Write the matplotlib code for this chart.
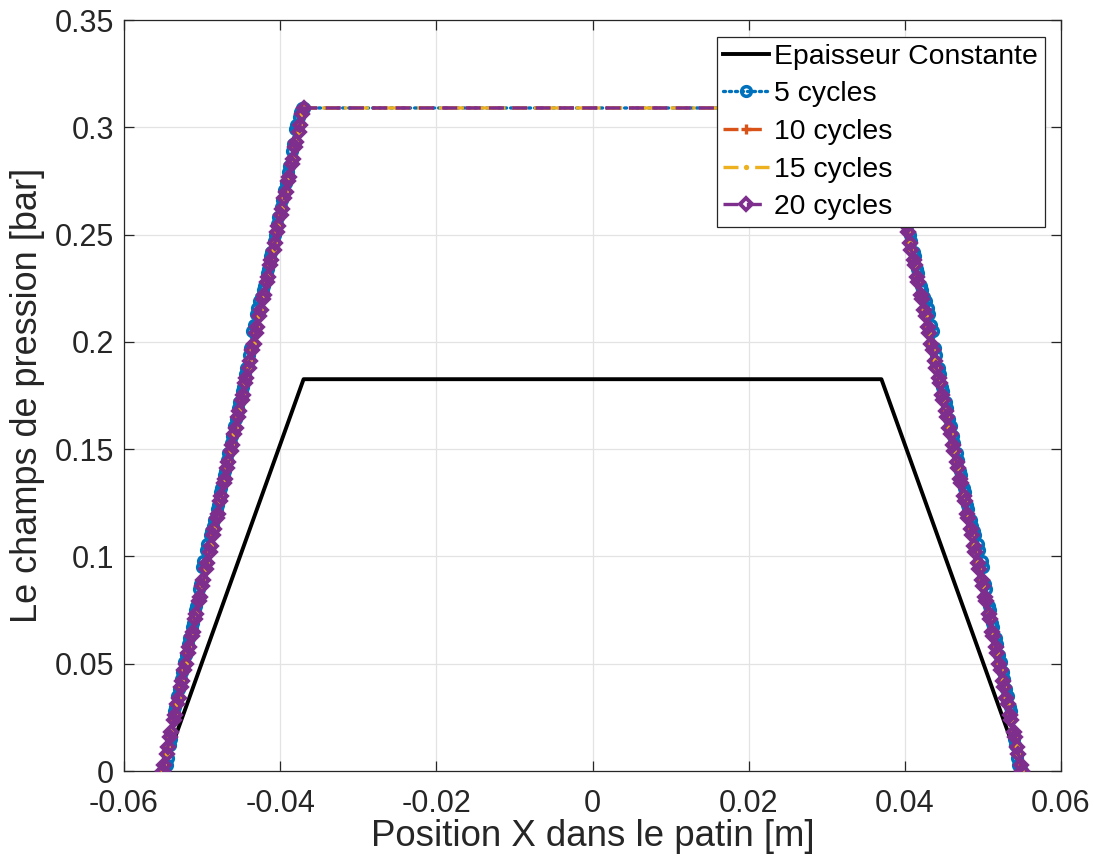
import matplotlib
matplotlib.use("Agg")
import matplotlib.pyplot as plt
from matplotlib.ticker import FixedLocator, FuncFormatter

plt.rcParams['font.family'] = ['Liberation Sans', 'DejaVu Sans']
plt.rcParams['axes.unicode_minus'] = False

# Constant-thickness pad pressure profile
x_const = [-0.055, -0.037, 0.037, 0.055]
p_const = [0.0, 0.1826, 0.1826, 0.0]

# Mesh nodes on the converging (left) and diverging (right) ramps of the textured pads
x_left = [-0.05500, -0.05485, -0.05454, -0.05439, -0.05409, -0.05393, -0.05363, -0.05347,
          -0.05317, -0.05302, -0.05271, -0.05256, -0.05226, -0.05210, -0.05180, -0.05164,
          -0.05134, -0.05119, -0.05088, -0.05073, -0.05043, -0.05028, -0.04997, -0.04982,
          -0.04951, -0.04936, -0.04905, -0.04890, -0.04860, -0.04845, -0.04814, -0.04799,
          -0.04768, -0.04753, -0.04722, -0.04707, -0.04677, -0.04662, -0.04631, -0.04616,
          -0.04585, -0.04570, -0.04539, -0.04524, -0.04494, -0.04479, -0.04448, -0.04433,
          -0.04403, -0.04387, -0.04357, -0.04341, -0.04311, -0.04296, -0.04265, -0.04250,
          -0.04220, -0.04205, -0.04174, -0.04159, -0.04128, -0.04113, -0.04082, -0.04067,
          -0.04037, -0.04022, -0.03991, -0.03976, -0.03945, -0.03930, -0.03899, -0.03884,
          -0.03854, -0.03839, -0.03808, -0.03793, -0.03762, -0.03747, -0.03716, -0.03700]
x_right = [0.03700, 0.03716, 0.03747, 0.03762, 0.03793, 0.03808, 0.03839, 0.03854,
           0.03884, 0.03899, 0.03930, 0.03945, 0.03976, 0.03991, 0.04022, 0.04037,
           0.04067, 0.04082, 0.04113, 0.04128, 0.04159, 0.04174, 0.04205, 0.04220,
           0.04250, 0.04265, 0.04296, 0.04311, 0.04341, 0.04357, 0.04387, 0.04403,
           0.04433, 0.04448, 0.04479, 0.04494, 0.04524, 0.04539, 0.04570, 0.04585,
           0.04616, 0.04631, 0.04662, 0.04677, 0.04707, 0.04722, 0.04753, 0.04768,
           0.04799, 0.04814, 0.04845, 0.04860, 0.04890, 0.04905, 0.04936, 0.04951,
           0.04982, 0.04997, 0.05028, 0.05043, 0.05073, 0.05088, 0.05119, 0.05134,
           0.05164, 0.05180, 0.05210, 0.05226, 0.05256, 0.05271, 0.05302, 0.05317,
           0.05347, 0.05363, 0.05393, 0.05409, 0.05439, 0.05454, 0.05485, 0.05500]

# Pressure [bar] on the ramps: 5 cycles
p5_left = [0.000, 0.000, 0.003, 0.006, 0.012, 0.015, 0.028, 0.030, 0.035, 0.038,
           0.043, 0.046, 0.051, 0.054, 0.059, 0.062, 0.067, 0.069, 0.075, 0.077,
           0.085, 0.087, 0.095, 0.098, 0.103, 0.106, 0.110, 0.112, 0.114, 0.117,
           0.122, 0.124, 0.130, 0.132, 0.138, 0.140, 0.145, 0.148, 0.153, 0.156,
           0.161, 0.164, 0.169, 0.172, 0.177, 0.179, 0.185, 0.188, 0.194, 0.197,
           0.205, 0.208, 0.213, 0.216, 0.219, 0.221, 0.224, 0.226, 0.232, 0.234,
           0.240, 0.242, 0.247, 0.250, 0.255, 0.258, 0.263, 0.266, 0.271, 0.274,
           0.279, 0.282, 0.289, 0.292, 0.299, 0.301, 0.305, 0.307, 0.309, 0.309]
p5_right = [0.309, 0.309, 0.307, 0.305, 0.301, 0.299, 0.292, 0.289, 0.282, 0.279,
            0.274, 0.271, 0.266, 0.263, 0.258, 0.255, 0.250, 0.247, 0.242, 0.240,
            0.234, 0.232, 0.226, 0.224, 0.221, 0.219, 0.216, 0.213, 0.208, 0.205,
            0.197, 0.194, 0.188, 0.185, 0.179, 0.177, 0.172, 0.169, 0.164, 0.161,
            0.156, 0.153, 0.148, 0.145, 0.140, 0.138, 0.132, 0.130, 0.124, 0.122,
            0.117, 0.114, 0.112, 0.110, 0.106, 0.103, 0.098, 0.095, 0.087, 0.085,
            0.077, 0.075, 0.069, 0.067, 0.062, 0.059, 0.054, 0.051, 0.046, 0.043,
            0.038, 0.035, 0.030, 0.028, 0.015, 0.012, 0.006, 0.003, 0.000, 0.000]

# Pressure [bar] on the ramps: 10, 15 and 20 cycles coincide at this scale
p_ramp_left = [0.000, 0.003, 0.008, 0.011, 0.016, 0.018, 0.024, 0.026, 0.031, 0.034,
               0.039, 0.042, 0.047, 0.050, 0.055, 0.058, 0.063, 0.065, 0.071, 0.073,
               0.079, 0.081, 0.086, 0.089, 0.094, 0.097, 0.102, 0.105, 0.110, 0.113,
               0.118, 0.120, 0.126, 0.128, 0.134, 0.136, 0.141, 0.144, 0.149, 0.152,
               0.157, 0.160, 0.165, 0.168, 0.173, 0.175, 0.181, 0.183, 0.188, 0.191,
               0.196, 0.199, 0.204, 0.207, 0.212, 0.215, 0.220, 0.222, 0.228, 0.230,
               0.236, 0.238, 0.243, 0.246, 0.251, 0.254, 0.259, 0.262, 0.267, 0.270,
               0.275, 0.277, 0.283, 0.285, 0.291, 0.293, 0.298, 0.301, 0.306, 0.309]
p_ramp_right = [0.309, 0.306, 0.301, 0.298, 0.293, 0.291, 0.285, 0.283, 0.277, 0.275,
                0.270, 0.267, 0.262, 0.259, 0.254, 0.251, 0.246, 0.243, 0.238, 0.236,
                0.230, 0.228, 0.222, 0.220, 0.215, 0.212, 0.207, 0.204, 0.199, 0.196,
                0.191, 0.188, 0.183, 0.181, 0.175, 0.173, 0.168, 0.165, 0.160, 0.157,
                0.152, 0.149, 0.144, 0.141, 0.136, 0.134, 0.128, 0.126, 0.120, 0.118,
                0.113, 0.110, 0.105, 0.102, 0.097, 0.094, 0.089, 0.086, 0.081, 0.079,
                0.073, 0.071, 0.065, 0.063, 0.058, 0.055, 0.050, 0.047, 0.042, 0.039,
                0.034, 0.031, 0.026, 0.024, 0.018, 0.016, 0.011, 0.008, 0.003, 0.000]

labels = ['Epaisseur Constante', '5 cycles', '10 cycles', '15 cycles', '20 cycles']
x_ticks = [-0.06, -0.04, -0.02, 0, 0.02, 0.04, 0.06]
y_ticks = [0, 0.05, 0.1, 0.15, 0.2, 0.25, 0.3, 0.35]

x_tex = x_left + x_right
p5 = p5_left + p5_right
p_ramp = p_ramp_left + p_ramp_right

fig = plt.figure(figsize=(10.99, 8.63), dpi=100)
ax = fig.add_axes([124 / 1099, 92 / 863, 937 / 1099, 751 / 863])

ax.plot(x_const, p_const, color='black', lw=2.8, label=labels[0], zorder=3)
ax.plot(x_tex, p5, color='#0072BD', lw=2.4, ls=(0, (0.6, 1.2)),
        dash_capstyle='round', marker='o', ms=7.0, mew=2.5, mfc='none',
        label=labels[1], zorder=4)
ax.plot(x_tex, p_ramp, color='#D95319', lw=2.4, ls=(0, (4.5, 2.5)),
        marker='+', ms=7, mew=2.4, label=labels[2], zorder=5)
ax.plot(x_tex, p_ramp, color='#EDB120', lw=2.4, ls=(0, (4.5, 2.0, 1.0, 2.0)),
        marker='o', ms=3.8, mew=0, mfc='#EDB120', label=labels[3], zorder=6)
ax.plot(x_tex, p_ramp, color='#7E2F8E', lw=2.4, ls=(0, (4.5, 2.5)),
        marker='D', ms=6.6, mew=2.8, mfc='none', label=labels[4], zorder=7)

ax.set_xlim(-0.06, 0.06)
ax.set_ylim(0, 0.35)
ax.xaxis.set_major_locator(FixedLocator(x_ticks))
ax.yaxis.set_major_locator(FixedLocator(y_ticks))
fmt = FuncFormatter(lambda v, pos: '%g' % round(v, 4))
ax.xaxis.set_major_formatter(fmt)
ax.yaxis.set_major_formatter(fmt)

ax.grid(True, color='#e3e3e3', lw=0.9, zorder=0)
ax.set_axisbelow(True)
for s in ax.spines.values():
    s.set_color('#262626')
    s.set_linewidth(0.9)
ax.tick_params(direction='in', length=7, width=0.9, color='#262626',
               labelcolor='#262626', labelsize=22, top=True, right=True, pad=7)
ax.tick_params(axis='x', pad=13)

ax.set_xlabel('Position X dans le patin [m]', fontsize=26.4, color='#262626', labelpad=0)
ax.set_ylabel('Le champs de pression [bar]', fontsize=26, color='#262626', labelpad=7)

leg = ax.legend(loc='upper right', bbox_to_anchor=(1045 / 1099, (863 - 37) / 863),
                bbox_transform=fig.transFigure, fontsize=20.4, frameon=True,
                fancybox=False, framealpha=1, edgecolor='#262626',
                handlelength=1.6, handletextpad=0.2, labelspacing=0.41,
                borderpad=0.24, borderaxespad=0)
leg.get_frame().set_linewidth(0.9)
leg.set_zorder(20)

fig.savefig('out.png', dpi=100)
